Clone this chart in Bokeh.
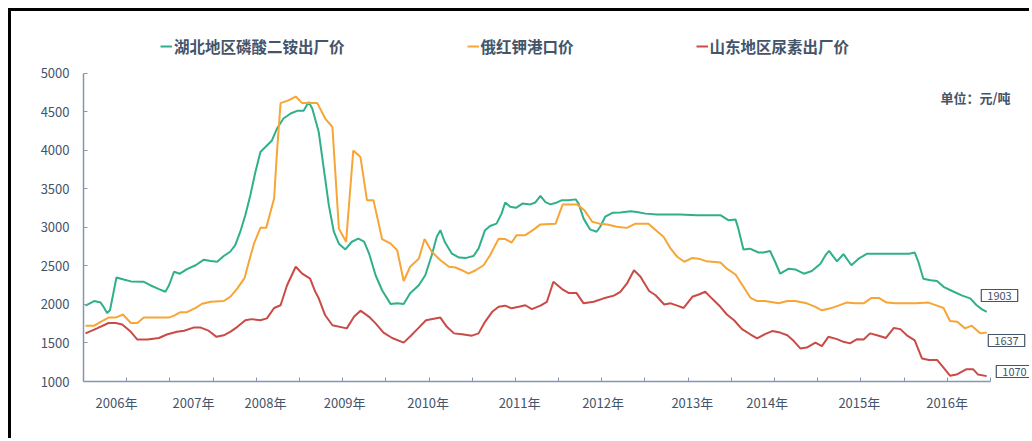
from bokeh.plotting import figure
from bokeh.models import Range1d, FixedTicker, Legend, LegendItem, Label
from bokeh.embed import file_html
from bokeh.resources import INLINE

FONT = "Noto Sans CJK SC"
TXT = "#44546A"
AXIS = "#8497B0"

series_names = ["湖北地区磷酸二铵出厂价", "俄红钾港口价", "山东地区尿素出厂价"]
series_colors = ["#2FB08A", "#F7A535", "#C94A46"]

# x = months since Jan 2006 (approx.), y = 元/吨
green_x = [0, 1.2, 2.1, 2.5, 3.0, 3.4, 4.3, 5.3, 6.3, 8.1,
           9.0, 10.2, 11.1, 11.6, 12.3, 13.1, 14.1, 15.3, 16.4, 17.4,
           18.3, 19.2, 20.1, 20.8, 21.5, 22.2, 22.9, 23.6, 24.3, 25.0,
           25.9, 26.6, 27.5, 28.5, 29.4, 30.3, 31.0, 31.5, 32.4, 33.1,
           33.8, 34.5, 35.2, 36.1, 37.0, 37.9, 38.7, 39.4, 40.3, 41.2,
           42.4, 43.3, 44.2, 45.1, 46.3, 47.2, 48.1, 48.8, 49.3, 49.9,
           50.9, 51.9, 52.9, 53.9, 54.6, 55.5, 56.2, 57.1, 57.8, 58.3,
           59.0, 59.8, 60.7, 61.8, 62.5, 63.2, 63.9, 64.6, 65.5, 66.2,
           67.1, 68.1, 68.5, 69.2, 70.1, 71.0, 71.5, 72.2, 73.2, 74.3,
           75.7, 76.6, 77.8, 79.4, 82.6, 84.9, 88.2, 89.3, 90.3, 90.7,
           91.4, 92.3, 93.5, 94.2, 95.1, 95.8, 96.5, 97.7, 98.6, 99.8,
           100.9, 102.1, 102.8, 103.3, 104.4, 105.3, 106.4, 107.4, 108.6, 114.4,
           115.2, 115.7, 116.4, 117.4, 118.3, 119.2, 120.4, 121.8, 122.9, 123.8,
           124.5, 125.2]
green_y = [1985, 2045, 2025, 1970, 1890, 1925, 2350, 2325, 2300, 2295,
           2250, 2200, 2165, 2250, 2425, 2400, 2460, 2510, 2580, 2565,
           2555, 2630, 2685, 2770, 2945, 3160, 3420, 3720, 3980, 4045,
           4130, 4285, 4415, 4480, 4515, 4515, 4630, 4545, 4240, 3765,
           3290, 2945, 2790, 2715, 2815, 2855, 2815, 2660, 2380, 2185,
           2005, 2015, 2005, 2145, 2250, 2380, 2640, 2880, 2965, 2815,
           2660, 2610, 2605, 2630, 2725, 2965, 3020, 3050, 3180, 3325,
           3270, 3255, 3310, 3300, 3325, 3410, 3330, 3300, 3325, 3355,
           3355, 3365, 3310, 3115, 2975, 2945, 3010, 3140, 3190, 3195,
           3210, 3200, 3180, 3170, 3170, 3160, 3160, 3095, 3105, 2985,
           2715, 2725, 2675, 2675, 2695, 2555, 2400, 2465, 2455, 2400,
           2435, 2530, 2640, 2695, 2560, 2655, 2510, 2595, 2660, 2660,
           2675, 2555, 2335, 2315, 2305, 2230, 2175, 2115, 2080, 1990,
           1940, 1903]

orange_x = [0, 1.2, 2.1, 3.2, 4.2, 5.2, 6.3, 7.2, 8.1, 11.6,
            12.3, 13.2, 14.1, 15.3, 16.2, 17.4, 19.2, 20.1, 21.1, 22.1,
            22.7, 23.4, 24.3, 25.1, 26.2, 26.6, 27.1, 28.2, 29.2, 30.1,
            32.2, 33.3, 34.3, 35.2, 36.2, 37.2, 38.2, 39.1, 40.0, 41.2,
            42.4, 43.3, 44.2, 45.1, 46.3, 47.1, 48.1, 49.3, 50.5, 51.4,
            52.3, 53.2, 54.2, 55.3, 56.2, 57.4, 58.3, 59.2, 59.9, 61.1,
            62.3, 63.2, 65.3, 66.3, 68.3, 69.3, 70.4, 71.4, 72.5, 73.8,
            75.2, 76.4, 78.2, 79.4, 80.3, 81.3, 82.2, 83.2, 84.3, 85.2,
            86.3, 88.2, 89.1, 90.3, 91.4, 92.4, 93.3, 94.4, 96.3, 97.5,
            98.6, 100.2, 101.4, 102.3, 103.5, 104.6, 105.7, 106.9, 108.1, 109.2,
            110.2, 111.3, 112.5, 115.3, 117.1, 118.3, 119.2, 120.1, 121.1, 122.2,
            123.1, 124.3, 125.2]
orange_y = [1725, 1725, 1775, 1830, 1830, 1870, 1760, 1760, 1830, 1830,
            1855, 1900, 1900, 1955, 2010, 2035, 2045, 2100, 2210, 2345,
            2555, 2790, 2995, 2995, 3375, 3980, 4615, 4650, 4700, 4615,
            4615, 4415, 4305, 2985, 2815, 4000, 3915, 3355, 3355, 2850,
            2790, 2705, 2305, 2490, 2595, 2850, 2685, 2575, 2490, 2480,
            2445, 2400, 2445, 2510, 2640, 2855, 2850, 2805, 2900, 2900,
            2975, 3040, 3050, 3300, 3300, 3225, 3075, 3050, 3040, 3010,
            2995, 3050, 3050, 2950, 2880, 2725, 2620, 2555, 2605, 2595,
            2560, 2545, 2465, 2390, 2230, 2085, 2045, 2045, 2015, 2045,
            2045, 2015, 1970, 1925, 1950, 1985, 2025, 2015, 2015, 2085,
            2085, 2025, 2015, 2015, 2025, 1985, 1955, 1785, 1775, 1690,
            1725, 1625, 1637]

red_x = [0, 1.6, 3.2, 4.2, 5.1, 6.3, 7.2, 8.6, 10.2, 11.3,
         12.7, 13.7, 15.0, 16.0, 17.1, 18.2, 19.2, 20.1, 21.1, 22.2,
         23.1, 24.3, 25.2, 26.2, 27.1, 28.0, 29.2, 30.1, 31.2, 31.9,
         32.4, 33.3, 34.3, 36.3, 37.3, 38.2, 39.4, 40.3, 41.4, 42.6,
         44.2, 45.2, 46.2, 47.3, 49.3, 50.2, 51.2, 52.3, 53.7, 54.6,
         55.5, 56.5, 57.4, 58.3, 59.2, 60.2, 61.1, 62.0, 63.2, 64.1,
         65.0, 66.2, 67.1, 68.2, 69.2, 70.6, 72.0, 73.4, 74.3, 75.2,
         76.2, 77.1, 78.3, 79.2, 80.4, 81.3, 82.2, 83.1, 84.3, 85.2,
         86.1, 87.0, 88.2, 89.1, 90.1, 91.2, 92.4, 93.3, 94.4, 95.4,
         96.5, 97.5, 98.4, 99.3, 100.2, 101.4, 102.3, 103.2, 104.4, 105.3,
         106.2, 107.2, 108.1, 109.0, 110.2, 111.2, 112.3, 113.2, 114.1, 115.2,
         116.2, 117.2, 118.3, 119.2, 120.1, 121.0, 122.4, 123.3, 124.0, 125.2]
red_y = [1625, 1690, 1760, 1760, 1740, 1645, 1545, 1545, 1565, 1610,
         1645, 1660, 1700, 1700, 1660, 1580, 1600, 1645, 1710, 1795,
         1810, 1795, 1820, 1955, 1990, 2250, 2490, 2400, 2335, 2170,
         2080, 1860, 1730, 1690, 1840, 1920, 1840, 1755, 1635, 1565,
         1505, 1595, 1690, 1795, 1830, 1710, 1625, 1615, 1595, 1625,
         1775, 1905, 1970, 1985, 1950, 1970, 1990, 1940, 1985, 2035,
         2295, 2200, 2150, 2150, 2015, 2035, 2080, 2115, 2165, 2270,
         2445, 2360, 2175, 2120, 2000, 2015, 1985, 1955, 2100, 2130,
         2165, 2080, 1970, 1870, 1795, 1680, 1610, 1560, 1615, 1655,
         1635, 1600, 1525, 1430, 1440, 1505, 1460, 1580, 1550, 1515,
         1495, 1550, 1545, 1625, 1595, 1565, 1695, 1680, 1600, 1535,
         1300, 1280, 1280, 1180, 1075, 1090, 1160, 1160, 1090, 1070]

year_labels = ["2006年", "2007年", "2008年", "2009年", "2010年", "2011年",
               "2012年", "2013年", "2014年", "2015年", "2016年"]
year_pos = [4.3, 15.0, 25.0, 36.0, 47.6, 60.3, 71.9, 84.3, 94.7, 107.5, 119.7]
y_ticks = [1000, 1500, 2000, 2500, 3000, 3500, 4000, 4500, 5000]
unit_text = "单位：元/吨"

X0, X1 = -0.28, 125.72
p = figure(width=1021, height=430, output_backend="svg", toolbar_location=None,
           x_range=Range1d(X0, 131.56), y_range=Range1d(1000, 5623),
           min_border_left=72, min_border_right=0, min_border_top=14,
           min_border_bottom=60, outline_line_color=None,
           background_fill_color="white", border_fill_color="white")
p.margin = (8, 0, 0, 8)
p.styles = {"border-top": "3px solid black", "border-left": "3px solid black"}
p.grid.visible = False

xa = p.xaxis[0]
xa.bounds = (X0, X1)
xa.ticker = FixedTicker(ticks=year_pos, minor_ticks=[X0 + 6 * k for k in range(22)])
xa.major_label_overrides = {pos: lab for pos, lab in zip(year_pos, year_labels)}
xa.major_tick_line_color = None
xa.major_tick_in = 0
xa.major_tick_out = 0
xa.minor_tick_in = 4
xa.minor_tick_out = 0
xa.minor_tick_line_color = AXIS
xa.axis_line_color = AXIS
xa.axis_line_width = 1.5
xa.major_label_standoff = 11
xa.major_label_text_font = FONT
xa.major_label_text_font_size = "13px"
xa.major_label_text_color = TXT

ya = p.yaxis[0]
ya.bounds = (1000, 5000)
ya.ticker = FixedTicker(ticks=y_ticks)
ya.major_tick_in = 4
ya.major_tick_out = 0
ya.major_tick_line_color = AXIS
ya.minor_tick_line_color = None
ya.axis_line_color = AXIS
ya.axis_line_width = 1.5
ya.major_label_standoff = 14
ya.major_label_text_font = FONT
ya.major_label_text_font_size = "13px"
ya.major_label_text_color = TXT

renderers = []
for xs, ys, c in [(green_x, green_y, series_colors[0]),
                  (orange_x, orange_y, series_colors[1]),
                  (red_x, red_y, series_colors[2])]:
    r = p.line(x=xs, y=ys, line_color=c, line_width=2)
    renderers.append(r)

legend = Legend(items=[LegendItem(label=n, renderers=[r]) for n, r in zip(series_names, renderers)],
                orientation="horizontal", location=(77, 324), padding=0, margin=0,
                spacing=122, label_standoff=2, glyph_width=12, glyph_height=16,
                label_height=16, label_text_font=FONT, label_text_font_size="15.5px",
                label_text_font_style="bold", label_text_color=TXT,
                border_line_color=None, background_fill_alpha=0)
p.add_layout(legend)

p.add_layout(Label(x=892, y=284, x_units="screen", y_units="screen", text=unit_text,
                   text_align="center", text_baseline="middle", text_font=FONT,
                   text_font_size="13px", text_font_style="bold", text_color=TXT))

end_pos = [(916, 86), (923, 41), (931, 10)]
for ys, (lx, ly) in zip([green_y, orange_y, red_y], end_pos):
    p.add_layout(Label(x=lx, y=ly, x_units="screen", y_units="screen", text=str(ys[-1]),
                       text_align="center", text_baseline="middle", text_font=FONT,
                       text_font_size="11px", text_color=TXT,
                       background_fill_color="white", border_line_color=TXT,
                       border_line_width=1.2, padding=dict(left=6, right=6, top=2, bottom=2)))

open("out.html", "w").write(file_html(p, INLINE))
